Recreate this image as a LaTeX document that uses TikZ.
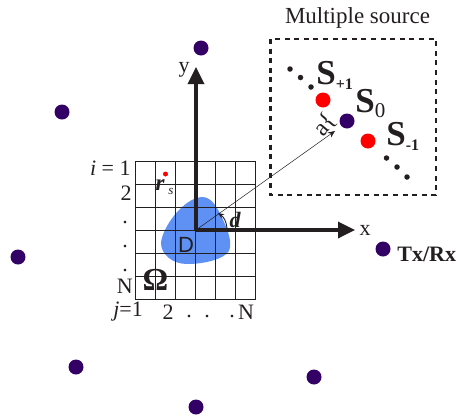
\documentclass[tikz,border=0pt]{standalone}
\usepackage{fontspec}
\setmainfont{Liberation Serif}
\newfontfamily\dfont{Liberation Sans}
\usepackage{tikz}
\usetikzlibrary{arrows.meta}
\definecolor{txrx}{RGB}{51,0,102}
\definecolor{blob}{RGB}{95,145,245}
\definecolor{ink}{RGB}{35,31,32}
\tikzset{
  antenna/.style={circle,fill=txrx,inner sep=0,minimum size=15},
  source/.style={circle,fill=red,inner sep=0,minimum size=15},
  dotty/.style={circle,fill=ink,inner sep=0,minimum size=5.5},
  axis/.style={line width=3.4,draw=ink,-{Triangle[length=17,width=16]}},
  lab/.style={text=ink,inner sep=0,font=\fontsize{22}{22}\selectfont},
  bigs/.style={text=ink,inner sep=0,font=\fontsize{35}{35}\selectfont\bfseries}
}
\begin{document}
\begin{tikzpicture}[x=1pt,y=-1pt,line width=0.7]
  \useasboundingbox (0,0) rectangle (458,416);
  % object
  \fill[blob] (202,197) .. controls (212,197) and (218,208) .. (224,222)
    .. controls (229,233) and (232,243) .. (229,251)
    .. controls (224,259) and (205,264) .. (187,264)
    .. controls (172,264) and (161,254) .. (161,243)
    .. controls (162,228) and (183,198) .. (202,197);
  % grid
  \foreach \c in {0,...,6}{
    \draw[ink,line width=1.2] ({135.7+20*\c},161.3) -- ({135.7+20*\c},299.7);
    \draw[ink,line width=1.2] (135.7,{161.3+23.07*\c}) -- (255.7,{161.3+23.07*\c});
  }
  % antennas around
  \foreach \n/\x/\y in {a/201/48,b/62/112,c/18/257,e/76/367,f/196/407,g/314/377,h/383/249}
    \node[antenna] (\n) at (\x,\y) {};
  % multiple source box
  \draw[ink,line width=2.4,dash pattern=on 5pt off 4.6pt] (270.5,39) rectangle (436,195);
  \node[lab,font=\fontsize{23}{23}\selectfont] (title) at (357.5,18) {Multiple source};
  \node[antenna] (s0) at (347,121) {};
  \node[source] (sp) at (323,100) {};
  \node[source] (sm) at (368,141) {};
  \foreach \n/\x/\y in {p1/290/69,p2/300.5/77.5,p3/311/87,m1/386.5/158,m2/397/167,m3/407/177}
    \node[dotty] (\n) at (\x,\y) {};
  \node[bigs,anchor=base west] (sa) at (316,84) {S\raisebox{-5pt}{\fontsize{16}{16}\selectfont +1}};
  \node[bigs,anchor=base west] (sb) at (355,112) {S\raisebox{-5pt}{\fontsize{21}{21}\selectfont\mdseries 0}};
  \node[bigs,anchor=base west] (sc) at (386,145) {S\raisebox{-5pt}{\fontsize{16}{16}\selectfont -1}};
  \node[lab,rotate=50,font=\fontsize{24}{24}\selectfont] (gap) at (325,125) {a\{};
  % axes
  \coordinate (o) at (196,230);
  \coordinate (ytip) at (196,67);
  \coordinate (xtip) at (355,230);
  \coordinate (thintip) at (335,131);
  \draw[axis] (o) -- (ytip);
  \draw[axis] (o) -- (xtip);
  \draw[ink,line width=0.5,-{Stealth[length=7,width=6]}] (o) -- (thintip);
  \coordinate (darc) at (227,228);
  \coordinate (dtip) at (218,213);
  \draw[ink,line width=0.9,-{Stealth[length=6,width=5]}] (darc) to[bend right=25] (dtip);
  \node[lab] (ylab) at (184,70) {y};
  \node[lab] (xlab) at (365,230) {x};
  \node[lab,font=\fontsize{22}{22}\selectfont\itshape\bfseries] (dlab) at (235,220) {d};
  \node[text=ink,inner sep=0,font=\dfont\fontsize{22}{22}\selectfont] (dname) at (186,245) {D};
  \node[text=ink,inner sep=0,font=\fontsize{32}{32}\selectfont\bfseries] (omega) at (155.5,280) {Ω};
  \node[lab,font=\fontsize{22}{22}\selectfont\bfseries,anchor=west] (txlab) at (397,254) {Tx/Rx};
  % source in the grid
  \node[circle,fill=red,inner sep=0,minimum size=5] (rs) at (165.5,174) {};
  \node[lab,font=\fontsize{23}{23}\selectfont\itshape\bfseries] (rslab) at (160,185) {r};
  \node[lab,font=\fontsize{13}{13}\selectfont\itshape] (rssub) at (171,191) {s};
  % row and column labels
  \node[lab,anchor=east] (r1) at (131,168) {\textit{i} = 1};
  \node[lab,anchor=east] (r2) at (132,193) {2};
  \foreach \n/\y in {d1/223,d2/247,d3/271}
    \node[lab] (\n) at (125,\y) {.};
  \node[lab,anchor=east] (rn) at (133,286) {N};
  \node[lab,anchor=west] (cj) at (113,312) {\textit{j}=1};
  \node[lab] (c2) at (168,312) {2};
  \foreach \n/\x in {e1/189,e2/207,e3/232}
    \node[lab] (\n) at (\x,317) {.};
  \node[lab] (cn) at (246,312) {N};
\end{tikzpicture}
\end{document}
